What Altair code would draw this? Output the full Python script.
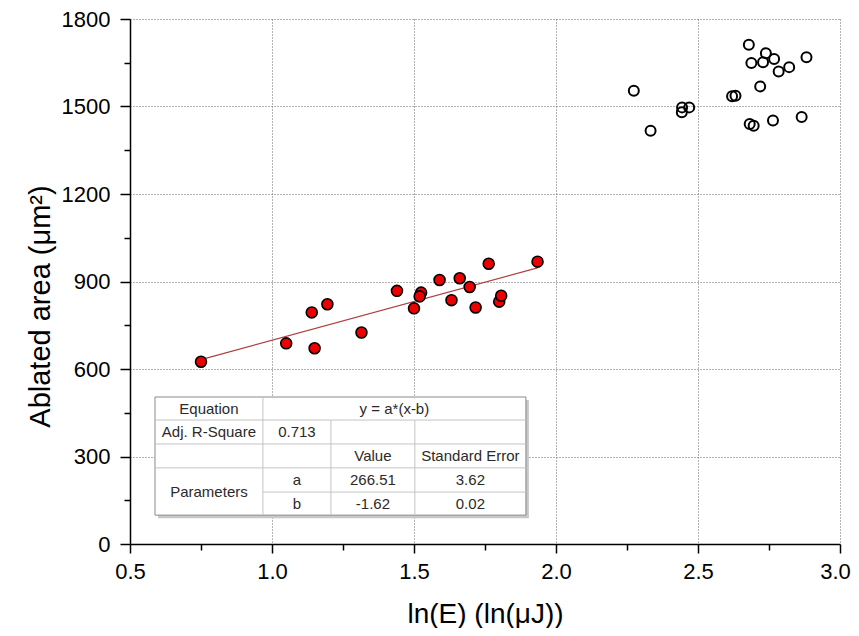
import altair as alt
import pandas as pd

# ---------------- data ----------------
fit_x = [0.75, 1.05, 1.15, 1.14, 1.195, 1.315, 1.44, 1.50, 1.525, 1.52, 1.59,
         1.632, 1.661, 1.696, 1.717, 1.763, 1.80, 1.807, 1.935]
fit_y = [625, 688, 671, 794, 822, 725, 868, 808, 862, 849, 905,
         836, 911, 881, 811, 961, 831, 851, 968]

excl_x = [2.679, 2.739, 2.688, 2.729, 2.768, 2.784, 2.821, 2.882, 2.719, 2.274,
          2.444, 2.443, 2.469, 2.333, 2.620, 2.632, 2.682, 2.696, 2.764, 2.865]
excl_y = [1712, 1683, 1649, 1652, 1663, 1620, 1635, 1669, 1569, 1554,
          1497, 1480, 1497, 1417, 1535, 1537, 1440, 1434, 1452, 1464]

line_x = [0.75, 1.935]
line_y = [632, 947]

x_ticks = [0.5, 1.0, 1.5, 2.0, 2.5, 3.0]
x_minor = [0.75, 1.25, 1.75, 2.25, 2.75]
y_ticks = [0, 300, 600, 900, 1200, 1500, 1800]
y_minor = [150, 450, 750, 1050, 1350, 1650]

# table contents: (text, column span start, column span end, row span start, row span end)
table_text = ["Equation", "y = a*(x-b)", "Adj. R-Square", "0.713", "Value",
              "Standard Error", "Parameters", "a", "266.51", "3.62", "b", "-1.62", "0.02"]
table_c0 = [0, 1, 0, 1, 2, 3, 0, 1, 2, 3, 1, 2, 3]
table_c1 = [1, 4, 1, 2, 3, 4, 1, 2, 3, 4, 2, 3, 4]
table_r0 = [0, 0, 1, 1, 2, 2, 3, 3, 3, 3, 4, 4, 4]
table_r1 = [1, 1, 2, 2, 3, 3, 5, 4, 4, 4, 5, 5, 5]

# table layout (in data units of the axes)
col_edges = [0.588, 0.968, 1.2075, 1.503, 1.894]
row_edges = [504, 425, 343, 261, 178, 99]

# ---------------- frames ----------------
fit_df = pd.DataFrame({"x": fit_x, "y": fit_y})
excl_df = pd.DataFrame({"x": excl_x, "y": excl_y})
line_df = pd.DataFrame({"x": line_x, "y": line_y})

txt_df = pd.DataFrame({
    "t": table_text,
    "x": [(col_edges[a] + col_edges[b]) / 2 for a, b in zip(table_c0, table_c1)],
    "y": [(row_edges[a] + row_edges[b]) / 2 for a, b in zip(table_r0, table_r1)],
})

box_df = pd.DataFrame({"x": [col_edges[0]], "x2": [col_edges[-1]],
                       "y": [row_edges[0]], "y2": [row_edges[-1]]})

rules = []
# horizontal lines
rules.append((col_edges[0], col_edges[-1], row_edges[1], row_edges[1]))
rules.append((col_edges[0], col_edges[-1], row_edges[2], row_edges[2]))
rules.append((col_edges[0], col_edges[-1], row_edges[3], row_edges[3]))
rules.append((col_edges[1], col_edges[-1], row_edges[4], row_edges[4]))
# vertical lines
rules.append((col_edges[1], col_edges[1], row_edges[0], row_edges[-1]))
rules.append((col_edges[2], col_edges[2], row_edges[1], row_edges[-1]))
rules.append((col_edges[3], col_edges[3], row_edges[1], row_edges[-1]))
rule_df = pd.DataFrame(rules, columns=["x", "x2", "y", "y2"])

FONT = "Liberation Sans"
xscale = alt.Scale(domain=[0.5, 3.0], nice=False, zero=False)
yscale = alt.Scale(domain=[0, 1800], nice=False, zero=False)

main_x_axis = alt.Axis(values=x_ticks, format=".1f", tickSize=9, tickWidth=1.5,
                       domainWidth=1.5, domainColor="black", tickColor="black",
                       labelFontSize=22, labelFont=FONT, labelColor="black",
                       labelPadding=8,
                       labelOffset={"condition": {"test": "datum.value >= 2.99", "value": -5},
                                    "value": 0},
                       title="ln(E) (ln(μJ))", titleFont=FONT,
                       titleFontSize=28, titleFontWeight="normal", titleColor="black",
                       titlePadding=18, grid=True, gridDash=[1, 2], gridColor="#666",
                       gridWidth=1, labelFlush=False)
main_y_axis = alt.Axis(values=y_ticks, format="d", tickSize=10, tickWidth=1.5,
                       domainWidth=1.5, domainColor="black", tickColor="black",
                       labelFontSize=22, labelFont=FONT, labelColor="black",
                       labelPadding=10, title="Ablated area (μm²)", titleFont=FONT,
                       titleFontSize=29, titleFontWeight="normal", titleColor="black",
                       titleX=-90, titleY=287, titleAlign="center", titleBaseline="middle",
                       titleAngle=270,
                       grid=True, gridDash=[1, 2], gridColor="#666",
                       gridWidth=1, labelFlush=False)

minor_x_axis = alt.Axis(values=x_minor, orient="bottom", tickSize=6, tickWidth=1.5,
                        tickColor="black", labels=False, domain=False, grid=False, title=None)
minor_y_axis = alt.Axis(values=y_minor, orient="left", tickSize=6, tickWidth=1.5,
                        tickColor="black", labels=False, domain=False, grid=False, title=None)

excl = alt.Chart(excl_df).mark_point(
    shape="circle", filled=False, color="black", strokeWidth=2, size=100, opacity=1
).encode(x=alt.X("x:Q", scale=xscale, axis=main_x_axis),
         y=alt.Y("y:Q", scale=yscale, axis=main_y_axis))

minor = alt.Chart(excl_df).mark_point(opacity=0).encode(
    x=alt.X("x:Q", scale=xscale, axis=minor_x_axis),
    y=alt.Y("y:Q", scale=yscale, axis=minor_y_axis))

fitline = alt.Chart(line_df).mark_line(color="#b04040", strokeWidth=1.3).encode(
    x=alt.X("x:Q", scale=xscale, axis=None),
    y=alt.Y("y:Q", scale=yscale, axis=None))

pts = alt.Chart(fit_df).mark_point(
    shape="circle", filled=True, fill="#ee0000", stroke="black", strokeWidth=1.6,
    size=120, opacity=1
).encode(x=alt.X("x:Q", scale=xscale, axis=None),
         y=alt.Y("y:Q", scale=yscale, axis=None))

shadow = alt.Chart(box_df).mark_rect(fill="#c8c8c8", xOffset=3, x2Offset=3,
                                     yOffset=3, y2Offset=3).encode(
    x=alt.X("x:Q", scale=xscale, axis=None), x2="x2:Q",
    y=alt.Y("y:Q", scale=yscale, axis=None), y2="y2:Q")

box = alt.Chart(box_df).mark_rect(fill="white", stroke="#8a8a8a", strokeWidth=1).encode(
    x=alt.X("x:Q", scale=xscale, axis=None), x2="x2:Q",
    y=alt.Y("y:Q", scale=yscale, axis=None), y2="y2:Q")

grid_lines = alt.Chart(rule_df).mark_rule(color="#c4c4c4", strokeWidth=1).encode(
    x=alt.X("x:Q", scale=xscale, axis=None), x2="x2:Q",
    y=alt.Y("y:Q", scale=yscale, axis=None), y2="y2:Q")

txt = alt.Chart(txt_df).mark_text(font=FONT, fontSize=15, color="#2a2a2a",
                                  align="center", baseline="middle").encode(
    x=alt.X("x:Q", scale=xscale, axis=None),
    y=alt.Y("y:Q", scale=yscale, axis=None), text="t:N")

chart = alt.layer(excl, minor, fitline, pts, shadow, box, grid_lines, txt).resolve_axis(
    x="independent", y="independent"
).properties(
    width=710, height=525,
    autosize=alt.AutoSizeParams(type="none"),
    padding={"left": 122, "top": 11, "right": 11, "bottom": 84},
).configure_view(stroke=None)

chart.save("out.html", embed_options={"renderer": "svg", "actions": False})
